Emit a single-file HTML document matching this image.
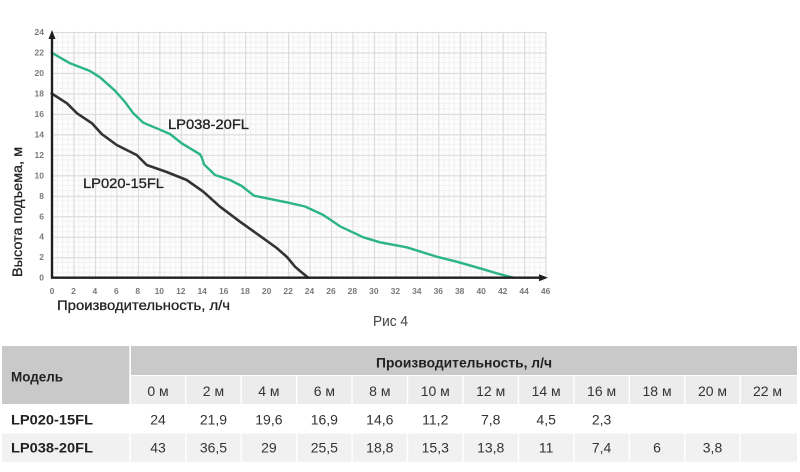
<!DOCTYPE html>
<html>
<head>
<meta charset="utf-8">
<style>
html,body{margin:0;padding:0;background:#fff;}
svg{display:block;}
text{font-family:"Liberation Sans","DejaVu Sans",sans-serif;}
</style>
</head>
<body>
<svg width="800" height="472" viewBox="0 0 800 472" xmlns="http://www.w3.org/2000/svg">
<defs>
<pattern id="grid" x="52" y="31.9" width="21.46" height="20.48" patternUnits="userSpaceOnUse">
<rect width="21.46" height="20.48" fill="#fdfdfd"/>
<line x1="5.365" y1="0" x2="5.365" y2="20.48" stroke="#efefef" stroke-width="0.8"/>
<line x1="10.73" y1="0" x2="10.73" y2="20.48" stroke="#efefef" stroke-width="0.8"/>
<line x1="16.095" y1="0" x2="16.095" y2="20.48" stroke="#efefef" stroke-width="0.8"/>
<line x1="0" y1="5.12" x2="21.46" y2="5.12" stroke="#efefef" stroke-width="0.8"/>
<line x1="0" y1="10.24" x2="21.46" y2="10.24" stroke="#efefef" stroke-width="0.8"/>
<line x1="0" y1="15.36" x2="21.46" y2="15.36" stroke="#efefef" stroke-width="0.8"/>
<line x1="0.5" y1="0" x2="0.5" y2="20.48" stroke="#dadada" stroke-width="1.2"/>
<line x1="0" y1="0.5" x2="21.46" y2="0.5" stroke="#dadada" stroke-width="1.2"/>
</pattern>
</defs>
<rect width="800" height="472" fill="#fff"/>

<!-- grid -->
<rect x="52" y="31.9" width="494.2" height="245.8" fill="url(#grid)"/>
<line x1="546" y1="31.9" x2="546" y2="277.7" stroke="#dadada" stroke-width="1.2"/>

<!-- curves -->
<polyline fill="none" stroke="#2bb585" stroke-width="2.4" stroke-linejoin="round" stroke-linecap="round"
points="51.7,52.7 70,63.3 90,71 100,77.3 115,90.7 125,102 133.3,113.3 143.3,122.7 156.7,128.3 170,134 181.7,143.3 200,154.3 202,158 204,164.3 215,175 230,180 241.7,186 254,195.7 266.7,198.3 286.7,202.3 305,206.5 323.3,215 340,226.3 363.3,237.3 380,242.3 406.7,247.3 436.7,256.7 456.7,261.7 480,268.3 496.7,273.3 513.3,277.7"/>
<polyline fill="none" stroke="#333333" stroke-width="2.6" stroke-linejoin="round" stroke-linecap="round"
points="51.7,93.5 67,103.3 77,113.3 92,123.3 101.7,134 116.7,145 136.7,155 146.7,165 166.7,172 186.7,180 203.3,191.7 220,206.7 240,221.7 263.3,238.3 276.7,248 287,257 295,266.7 300,271 308.3,277.7"/>

<!-- axes -->
<line x1="52" y1="278" x2="52" y2="37" stroke="#1e1e1e" stroke-width="2.4"/>
<polygon points="52,30 48.5,39 55.5,39" fill="#1e1e1e"/>
<line x1="51" y1="277.7" x2="541" y2="277.7" stroke="#1e1e1e" stroke-width="2.4"/>
<polygon points="548,277.7 539,274.2 539,281.2" fill="#1e1e1e"/>

<!-- y tick labels -->
<g font-size="8.5" font-weight="bold" fill="#7a7a7a" text-anchor="end">
<text x="44" y="280.7">0</text>
<text x="44" y="260.2">2</text>
<text x="44" y="239.7">4</text>
<text x="44" y="219.3">6</text>
<text x="44" y="198.8">8</text>
<text x="44" y="178.3">10</text>
<text x="44" y="157.8">12</text>
<text x="44" y="137.3">14</text>
<text x="44" y="116.8">16</text>
<text x="44" y="96.4">18</text>
<text x="44" y="75.9">20</text>
<text x="44" y="55.4">22</text>
<text x="44" y="34.9">24</text>
</g>

<!-- x tick labels -->
<g font-size="8.5" font-weight="bold" fill="#7a7a7a" text-anchor="middle">
<text x="52" y="294">0</text>
<text x="73.5" y="294">2</text>
<text x="94.9" y="294">4</text>
<text x="116.4" y="294">6</text>
<text x="137.8" y="294">8</text>
<text x="159.3" y="294">10</text>
<text x="180.8" y="294">12</text>
<text x="202.2" y="294">14</text>
<text x="223.7" y="294">16</text>
<text x="245.1" y="294">18</text>
<text x="266.6" y="294">20</text>
<text x="288.1" y="294">22</text>
<text x="309.5" y="294">24</text>
<text x="331" y="294">26</text>
<text x="352.4" y="294">28</text>
<text x="373.9" y="294">30</text>
<text x="395.4" y="294">32</text>
<text x="416.8" y="294">34</text>
<text x="438.3" y="294">36</text>
<text x="459.7" y="294">38</text>
<text x="481.2" y="294">40</text>
<text x="502.7" y="294">42</text>
<text x="524.1" y="294">44</text>
<text x="545.6" y="294">46</text>
</g>

<!-- series labels -->
<text x="168" y="129" font-size="14" fill="#222" stroke="#222" stroke-width="0.3" textLength="81" lengthAdjust="spacingAndGlyphs">LP038-20FL</text>
<text x="83" y="188" font-size="14" fill="#222" stroke="#222" stroke-width="0.3" textLength="81" lengthAdjust="spacingAndGlyphs">LP020-15FL</text>

<!-- axis titles -->
<text transform="translate(22,277) rotate(-90)" font-size="14" fill="#222" stroke="#222" stroke-width="0.3" textLength="130" lengthAdjust="spacingAndGlyphs">Высота подъема, м</text>
<text x="57" y="310" font-size="14" fill="#222" stroke="#222" stroke-width="0.3" textLength="173" lengthAdjust="spacingAndGlyphs">Производительность, л/ч</text>
<text x="373" y="326" font-size="15" fill="#444" textLength="35" lengthAdjust="spacingAndGlyphs">Рис 4</text>

<!-- table backgrounds -->
<rect x="2" y="346" width="127.3" height="58" fill="#c9c9c9"/>
<rect x="131" y="346" width="666" height="29" fill="#c9c9c9"/>
<g fill="#ececec">
<rect x="131" y="376" width="54" height="28"/>
<rect x="186.45" y="376" width="54" height="28"/>
<rect x="241.9" y="376" width="54" height="28"/>
<rect x="297.35" y="376" width="54" height="28"/>
<rect x="352.8" y="376" width="54" height="28"/>
<rect x="408.25" y="376" width="54" height="28"/>
<rect x="463.7" y="376" width="54" height="28"/>
<rect x="519.15" y="376" width="54" height="28"/>
<rect x="574.6" y="376" width="54" height="28"/>
<rect x="630.05" y="376" width="54" height="28"/>
<rect x="685.5" y="376" width="54" height="28"/>
<rect x="740.95" y="376" width="56" height="28"/>
</g>
<g fill="#f1f1f1">
<rect x="2" y="433.5" width="127.3" height="28.3"/>
<rect x="131" y="433.5" width="54" height="28.3"/>
<rect x="186.45" y="433.5" width="54" height="28.3"/>
<rect x="241.9" y="433.5" width="54" height="28.3"/>
<rect x="297.35" y="433.5" width="54" height="28.3"/>
<rect x="352.8" y="433.5" width="54" height="28.3"/>
<rect x="408.25" y="433.5" width="54" height="28.3"/>
<rect x="463.7" y="433.5" width="54" height="28.3"/>
<rect x="519.15" y="433.5" width="54" height="28.3"/>
<rect x="574.6" y="433.5" width="54" height="28.3"/>
<rect x="630.05" y="433.5" width="54" height="28.3"/>
<rect x="685.5" y="433.5" width="54" height="28.3"/>
<rect x="740.95" y="433.5" width="56" height="28.3"/>
</g>

<!-- table text -->
<text x="11" y="381.5" font-size="14" font-weight="bold" fill="#222" textLength="52" lengthAdjust="spacingAndGlyphs">Модель</text>
<text x="376" y="367.3" font-size="14" font-weight="bold" fill="#222" textLength="176" lengthAdjust="spacingAndGlyphs">Производительность, л/ч</text>
<text x="11" y="424.3" font-size="14" font-weight="bold" fill="#222" textLength="82" lengthAdjust="spacingAndGlyphs">LP020-15FL</text>
<text x="11" y="452.7" font-size="14" font-weight="bold" fill="#222" textLength="82" lengthAdjust="spacingAndGlyphs">LP038-20FL</text>

<g font-size="14" fill="#333" text-anchor="middle">
<text x="158" y="396">0 м</text>
<text x="213.45" y="396">2 м</text>
<text x="268.9" y="396">4 м</text>
<text x="324.35" y="396">6 м</text>
<text x="379.8" y="396">8 м</text>
<text x="435.25" y="396">10 м</text>
<text x="490.7" y="396">12 м</text>
<text x="546.15" y="396">14 м</text>
<text x="601.6" y="396">16 м</text>
<text x="657.05" y="396">18 м</text>
<text x="712.5" y="396">20 м</text>
<text x="767.5" y="396">22 м</text>

<text x="158" y="424.3">24</text>
<text x="213.45" y="424.3">21,9</text>
<text x="268.9" y="424.3">19,6</text>
<text x="324.35" y="424.3">16,9</text>
<text x="379.8" y="424.3">14,6</text>
<text x="435.25" y="424.3">11,2</text>
<text x="490.7" y="424.3">7,8</text>
<text x="546.15" y="424.3">4,5</text>
<text x="601.6" y="424.3">2,3</text>

<text x="158" y="452.7">43</text>
<text x="213.45" y="452.7">36,5</text>
<text x="268.9" y="452.7">29</text>
<text x="324.35" y="452.7">25,5</text>
<text x="379.8" y="452.7">18,8</text>
<text x="435.25" y="452.7">15,3</text>
<text x="490.7" y="452.7">13,8</text>
<text x="546.15" y="452.7">11</text>
<text x="601.6" y="452.7">7,4</text>
<text x="657.05" y="452.7">6</text>
<text x="712.5" y="452.7">3,8</text>
</g>
</svg>
</body>
</html>
